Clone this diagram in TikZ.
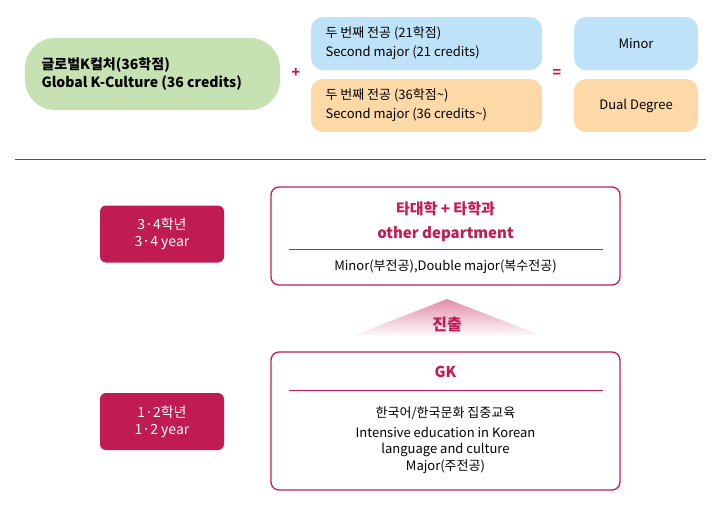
\documentclass[tikz,border=0pt]{standalone}
\usepackage{fontspec}
\setmainfont{Noto Sans CJK KR}
\usetikzlibrary{positioning}
\definecolor{crim}{RGB}{193,27,84}
\definecolor{lgreen}{RGB}{198,226,178}
\definecolor{lblue}{RGB}{190,227,248}
\definecolor{lpeach}{RGB}{253,217,168}
\begin{document}
\begin{tikzpicture}[x=1pt,y=-1pt,
  pill/.style = {rounded corners=12pt, inner sep=0pt, font=\fontsize{13}{15}\selectfont},
  yearbox/.style = {fill=crim, rounded corners=6pt, minimum width=124pt, minimum height=57pt, text=white, align=center, font=\fontsize{14}{17}\selectfont},
  framebox/.style = {draw=crim, line width=1.3pt, rounded corners=8pt}]
  \useasboundingbox (0,0) rectangle (726,520);
  % top row
  \node (gk) [pill, fill=lgreen, minimum width=255pt, minimum height=72pt, rounded corners=30pt] at (152.5,74) {};
  \node [align=left, font=\bfseries\fontsize{14}{18}\selectfont, anchor=west] at (38,74) {글로벌K컬처(36학점)\\Global K-Culture (36 credits)};
  \node (plus) [text=crim, font=\bfseries\fontsize{14}{14}\selectfont] at (296,73) {+};
  \node (sec1) [pill, fill=lblue, minimum width=231pt, minimum height=53pt] at (426.5,43.5) {};
  \node [align=left, anchor=west, font=\fontsize{13}{19}\selectfont] at (322,43.5) {두 번째 전공 (21학점)\\Second major (21 credits)};
  \node (sec2) [pill, fill=lpeach, minimum width=231pt, minimum height=53pt] at (426.5,105.5) {};
  \node [align=left, anchor=west, font=\fontsize{13}{19}\selectfont] at (322,105.5) {두 번째 전공 (36학점\textasciitilde)\\Second major (36 credits\textasciitilde)};
  \node (eq) [text=crim, font=\bfseries\fontsize{14}{14}\selectfont] at (557,73) {=};
  \node (minor) [pill, fill=lblue, minimum width=124pt, minimum height=53pt] at (636,43.5) {Minor};
  \node (dual) [pill, fill=lpeach, minimum width=124pt, minimum height=53pt] at (636,105.5) {Dual Degree};
  \draw[crim, line width=1pt] (15,159) -- (706,159);
  % years
  \node (y34) [yearbox] at (162,234) {3·4학년\\3·4 year};
  \node (y12) [yearbox] at (162,421.5) {1·2학년\\1·2 year};
  % upper frame
  \node (other) [framebox, minimum width=349pt, minimum height=98pt] at (445.5,236) {};
  \node [text=crim, align=center, font=\bfseries\fontsize{15}{24}\selectfont] at (445.5,222) {타대학 + 타학과\\other department};
  \draw[crim, line width=1pt] (289,249) -- (603,249);
  \node [font=\fontsize{13}{15}\selectfont] at (445.5,267) {Minor(부전공),Double major(복수전공)};
  % arrow triangle
  \shade[top color=crim!50, bottom color=crim!3] (447,299) -- (540,335) -- (355,335) -- cycle;
  \node (out) [text=crim, font=\bfseries\fontsize{16}{16}\selectfont] at (447,324) {진출};
  % lower frame
  \node (gkbox) [framebox, minimum width=349pt, minimum height=138pt] at (445.5,421) {};
  \node [text=crim, font=\bfseries\fontsize{15}{15}\selectfont] at (445.5,372) {GK};
  \draw[crim, line width=1pt] (289,390) -- (603,390);
  \node [align=center, font=\fontsize{13}{16.5}\selectfont] at (445.5,440) {한국어/한국문화 집중교육\\[3pt]Intensive education in Korean\\language and culture\\Major(주전공)};
\end{tikzpicture}
\end{document}
